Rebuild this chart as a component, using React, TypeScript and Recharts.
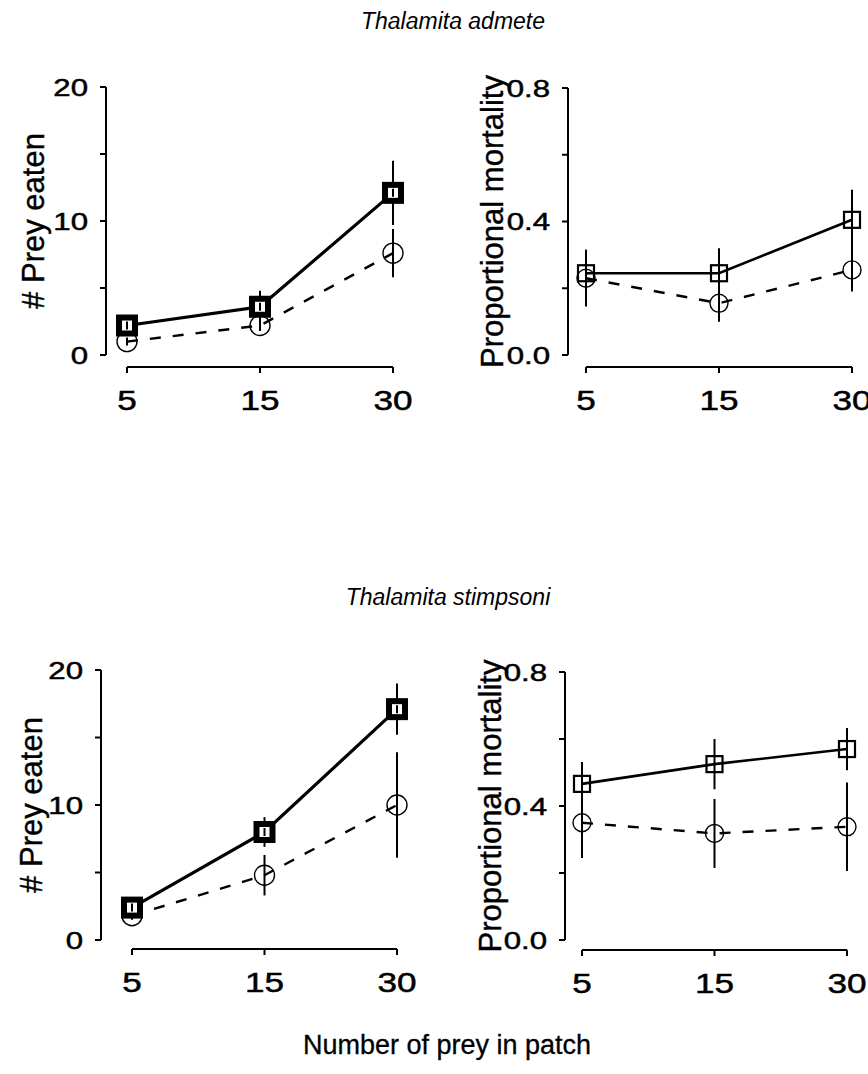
import React from "react";
import { LineChart, Line, XAxis, YAxis, ErrorBar } from "recharts";

const FONT = '"Liberation Sans", Arial, sans-serif';

// prey density per patch
const preyCounts = ["5", "15", "30"];

// Thalamita admete
const admeteEatenSq = [2.2, 3.6, 12.1];
const admeteEatenSqErr = [0.5, 1.2, 2.4];
const admeteEatenCi = [1.0, 2.2, 7.6];
const admeteEatenCiErr = [0.3, 0.4, 1.8];
const admeteMortSq = [0.245, 0.245, 0.405];
const admeteMortSqErr = [0.07, 0.075, 0.09];
const admeteMortCi = [0.23, 0.155, 0.255];
const admeteMortCiErr = [0.085, 0.055, 0.065];

// Thalamita stimpsoni
const stimpsoniEatenSq = [2.4, 8.0, 17.1];
const stimpsoniEatenSqErr = [0.5, 1.1, 1.9];
const stimpsoniEatenCi = [1.8, 4.8, 10.0];
const stimpsoniEatenCiErr = [0.3, 1.5, 3.9];
const stimpsoniMortSq = [0.466, 0.525, 0.57];
const stimpsoniMortSqErr = [0.065, 0.075, 0.063];
const stimpsoniMortCi = [0.35, 0.318, 0.338];
const stimpsoniMortCiErr = [0.105, 0.103, 0.132];

const eatenTicks = [0, 5, 10, 15, 20];
const eatenLabels = [0, 10, 20];
const mortTicks = [0, 0.2, 0.4, 0.6, 0.8];
const mortLabels = [0, 0.4, 0.8];

function rows(sq: number[], sqErr: number[], ci: number[], ciErr: number[]) {
  return preyCounts.map((n, i) => ({ n, sq: sq[i], sqErr: sqErr[i], ci: ci[i], ciErr: ciErr[i] }));
}

// tick text with the wide, slightly stretched numerals of the figure
function wideTick(fmt: (v: any) => string, size: number, side: "left" | "bottom") {
  return (props: any) => {
    const { x, y, payload } = props;
    const txt = fmt(payload.value);
    if (!txt) return <g />;
    return (
      <g transform={`translate(${x},${y})`}>
        <text
          transform="scale(1.3,1)"
          textAnchor={side === "left" ? "end" : "middle"}
          dy={side === "left" ? "0.36em" : "0.71em"}
          fontSize={size}
          fontFamily={FONT}
          fill="#000"
          stroke="#000"
          strokeWidth={0.5}
        >
          {txt}
        </text>
      </g>
    );
  };
}

function FilledSquare(props: any) {
  const { cx, cy, index } = props;
  if (cx == null || cy == null) return null;
  return (
    <g key={`fs${index}`}>
      <rect x={cx - 8} y={cy - 8} width={16} height={16} fill="#fff" stroke="#000" strokeWidth={6} />
      <line x1={cx} y1={cy - 4} x2={cx} y2={cy + 4} stroke="#000" strokeWidth={2} />
    </g>
  );
}

function OpenSquare(props: any) {
  const { cx, cy, index } = props;
  if (cx == null || cy == null) return null;
  return <rect key={`os${index}`} x={cx - 8} y={cy - 8} width={16} height={16} fill="none" stroke="#000" strokeWidth={2.2} />;
}

function OpenCircle(r: number) {
  return (props: any) => {
    const { cx, cy, index } = props;
    if (cx == null || cy == null) return null;
    return <circle key={`oc${index}`} cx={cx} cy={cy} r={r} fill="none" stroke="#000" strokeWidth={1.4} />;
  };
}

interface PanelProps {
  top: number; // page y of chart box
  axisX: number; // y axis line
  plotLeft: number;
  plotRight: number;
  maxY: number; // pixel of domain max
  zeroY: number; // pixel of 0
  xAxisY: number; // pixel of detached x axis
  yMax: number;
  ticks: number[];
  labels: number[];
  fmt: (v: number) => string;
  yLabel: string;
  yLabelX: number;
  data: ReturnType<typeof rows>;
  filled: boolean;
  sqLineW: number;
  circleR: number;
}

function Panel(p: PanelProps) {
  const yW = 130;
  const chartA_left = p.axisX - yW;
  const mTop = p.maxY - p.top;
  const padB = p.xAxisY - p.zeroY;
  const yFmt = (v: number) => (p.labels.includes(v) ? p.fmt(v) : "");
  return (
    <>
      {/* left axis, drawn on its own so it can sit apart from the x axis */}
      <div style={{ position: "absolute", left: chartA_left, top: p.top }}>
        <LineChart
          width={yW + 10}
          height={p.zeroY - p.top + 20}
          margin={{ top: mTop, right: 0, left: 0, bottom: 20 }}
          data={p.data}
        >
          <XAxis dataKey="n" hide />
          <YAxis
            width={yW}
            domain={[0, p.yMax]}
            ticks={p.ticks}
            interval={0}
            tick={wideTick(yFmt, 24, "left")}
            tickSize={6}
            tickMargin={12}
            axisLine={{ stroke: "#000", strokeWidth: 2 }}
            tickLine={{ stroke: "#000", strokeWidth: 2 }}
            label={{
              value: p.yLabel,
              angle: -90,
              position: "insideLeft",
              offset: p.yLabelX - chartA_left,
              style: { textAnchor: "middle", fontSize: 31, fill: "#000", fontFamily: FONT, stroke: "#000", strokeWidth: 0.4 },
            }}
          />
          <Line dataKey="sq" stroke="none" dot={false} isAnimationActive={false} />
        </LineChart>
      </div>
      {/* data and the x axis */}
      <div style={{ position: "absolute", left: p.plotLeft - 40, top: p.top }}>
        <LineChart
          width={p.plotRight - p.plotLeft + 80}
          height={p.xAxisY - p.top + 65}
          margin={{ top: mTop, right: 40, left: 40, bottom: 5 }}
          data={p.data}
        >
          <XAxis
            dataKey="n"
            tick={wideTick((v: string) => v, 27, "bottom")}
            tickSize={6}
            tickMargin={18}
            height={60}
            interval={0}
            axisLine={{ stroke: "#000", strokeWidth: 2 }}
            tickLine={{ stroke: "#000", strokeWidth: 2 }}
          />
          <YAxis hide domain={[0, p.yMax]} padding={{ top: 0, bottom: padB }} />
          <Line
            dataKey="ci"
            stroke="#000"
            strokeWidth={2.4}
            strokeDasharray="11 12"
            dot={OpenCircle(p.circleR)}
            isAnimationActive={false}
          >
            <ErrorBar dataKey="ciErr" width={0} stroke="#000" strokeWidth={2} direction="y" />
          </Line>
          <Line
            dataKey="sq"
            stroke="#000"
            strokeWidth={p.sqLineW}
            dot={p.filled ? FilledSquare : OpenSquare}
            isAnimationActive={false}
          >
            <ErrorBar dataKey="sqErr" width={0} stroke="#000" strokeWidth={2} direction="y" />
          </Line>
        </LineChart>
      </div>
    </>
  );
}

const fmtInt = (v: number) => String(v);
const fmtDec = (v: number) => v.toFixed(1);

export default function App() {
  return (
    <div
      style={{
        position: "absolute",
        left: 0,
        top: 0,
        width: 868,
        height: 1074,
        overflow: "hidden",
        background: "#fff",
        fontFamily: FONT,
      }}
    >
      <Panel
        top={50}
        axisX={106}
        plotLeft={127}
        plotRight={393}
        maxY={87}
        zeroY={355}
        xAxisY={367}
        yMax={20}
        ticks={eatenTicks}
        labels={eatenLabels}
        fmt={fmtInt}
        yLabel="# Prey eaten"
        yLabelX={33}
        data={rows(admeteEatenSq, admeteEatenSqErr, admeteEatenCi, admeteEatenCiErr)}
        filled
        sqLineW={3.2}
        circleR={10}
      />
      <Panel
        top={50}
        axisX={568}
        plotLeft={586}
        plotRight={852}
        maxY={88}
        zeroY={355}
        xAxisY={367}
        yMax={0.8}
        ticks={mortTicks}
        labels={mortLabels}
        fmt={fmtDec}
        yLabel="Proportional mortality"
        yLabelX={492}
        data={rows(admeteMortSq, admeteMortSqErr, admeteMortCi, admeteMortCiErr)}
        filled={false}
        sqLineW={2.6}
        circleR={9}
      />
      <Panel
        top={630}
        axisX={101}
        plotLeft={132}
        plotRight={397}
        maxY={670}
        zeroY={940}
        xAxisY={949}
        yMax={20}
        ticks={eatenTicks}
        labels={eatenLabels}
        fmt={fmtInt}
        yLabel="# Prey eaten"
        yLabelX={31}
        data={rows(stimpsoniEatenSq, stimpsoniEatenSqErr, stimpsoniEatenCi, stimpsoniEatenCiErr)}
        filled
        sqLineW={3.2}
        circleR={10}
      />
      <Panel
        top={630}
        axisX={565}
        plotLeft={582}
        plotRight={847}
        maxY={672}
        zeroY={940}
        xAxisY={950}
        yMax={0.8}
        ticks={mortTicks}
        labels={mortLabels}
        fmt={fmtDec}
        yLabel="Proportional mortality"
        yLabelX={490}
        data={rows(stimpsoniMortSq, stimpsoniMortSqErr, stimpsoniMortCi, stimpsoniMortCiErr)}
        filled={false}
        sqLineW={2.6}
        circleR={9}
      />
      <svg width={868} height={1074} style={{ position: "absolute", left: 0, top: 0, pointerEvents: "none" }}>
        <text x={453} y={29} textAnchor="middle" fontStyle="italic" fontSize={23} fontFamily={FONT}>
          Thalamita admete
        </text>
        <text x={448} y={605} textAnchor="middle" fontStyle="italic" fontSize={23} fontFamily={FONT}>
          Thalamita stimpsoni
        </text>
        <text x={447} y={1054} textAnchor="middle" fontSize={27} fontFamily={FONT} stroke="#000" strokeWidth={0.3}>
          Number of prey in patch
        </text>
      </svg>
    </div>
  );
}
